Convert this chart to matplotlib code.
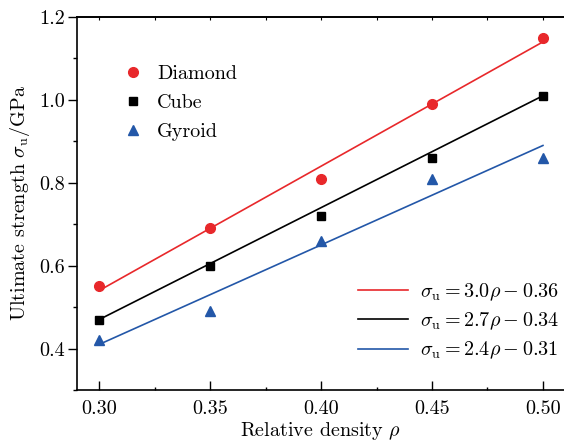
import numpy as np
import matplotlib
matplotlib.use('Agg')
import matplotlib.pyplot as plt
from matplotlib.ticker import MultipleLocator, NullFormatter

plt.rcParams['font.family'] = 'cmr10'
plt.rcParams['mathtext.fontset'] = 'cm'
plt.rcParams['axes.formatter.use_mathtext'] = True

# data
rho = [0.30, 0.35, 0.40, 0.45, 0.50]
diamond = [0.55, 0.69, 0.81, 0.99, 1.15]
cube = [0.47, 0.60, 0.72, 0.86, 1.01]
gyroid = [0.42, 0.49, 0.66, 0.81, 0.86]

# linear fits sigma_u = a*rho + b
fit_a = [3.0, 2.7, 2.4]
fit_b = [-0.36, -0.34, -0.31]
fit_labels = [r'$\sigma_{\mathrm{u}}=3.0\rho-0.36$',
              r'$\sigma_{\mathrm{u}}=2.7\rho-0.34$',
              r'$\sigma_{\mathrm{u}}=2.4\rho-0.31$']

xticks = [0.30, 0.35, 0.40, 0.45, 0.50]
xticklabels = ['0.30', '0.35', '0.40', '0.45', '0.50']
yticks = [0.4, 0.6, 0.8, 1.0, 1.2]
yticklabels = ['0.4', '0.6', '0.8', '1.0', '1.2']

red = '#e8282b'
blk = '#000000'
blue = '#2357a8'
cols = [red, blk, blue]
fs = 14.5

fig = plt.figure(figsize=(5.64, 4.44), dpi=100)
ax = fig.add_axes([0.1365, 0.1216, 0.8655, 0.8401])

p1, = ax.plot(rho, diamond, 'o', color=red, ms=7, ls='none', label='Diamond')
p2, = ax.plot(rho, cube, 's', color=blk, ms=6, ls='none', label='Cube')
p3, = ax.plot(rho, gyroid, '^', color=blue, ms=7.5, ls='none', label='Gyroid')

xf = np.array([0.30, 0.50])
lines = []
for a, b, c, lab in zip(fit_a, fit_b, cols, fit_labels):
    l, = ax.plot(xf, a * xf + b, '-', color=c, lw=1.2, label=lab)
    lines.append(l)

ax.set_xlim(0.29, 0.51)
ax.set_ylim(0.3, 1.2)
ax.set_xticks(xticks)
ax.set_xticklabels(xticklabels)
ax.xaxis.set_minor_locator(MultipleLocator(0.025))
ax.set_yticks(yticks)
ax.set_yticklabels(yticklabels)
ax.yaxis.set_minor_locator(MultipleLocator(0.1))

ax.tick_params(axis='x', which='both', direction='in', top=False, labelsize=fs, width=1)
ax.tick_params(axis='x', which='major', length=6.5, pad=7)
ax.tick_params(axis='x', which='minor', length=2.5)
ax.tick_params(axis='y', which='both', direction='out', labelsize=fs, width=1, right=False)
ax.tick_params(axis='y', which='major', length=6.5, pad=2)
ax.tick_params(axis='y', which='minor', length=3)

sec = ax.secondary_xaxis('top')
sec.set_xticks(xticks)
sec.xaxis.set_minor_locator(MultipleLocator(0.025))
sec.xaxis.set_major_formatter(NullFormatter())
sec.tick_params(which='both', direction='in', length=2.5, width=0.8)
sec.spines['top'].set_linewidth(1.2)

for s in ax.spines.values():
    s.set_linewidth(1.2)

ax.set_xlabel(r'Relative density $\rho$', fontsize=fs, labelpad=2)
ax.set_ylabel(r'Ultimate strength $\sigma_{\mathrm{u}}$/GPa', fontsize=fs, labelpad=5)

leg1 = ax.legend(handles=[p1, p2, p3], loc='upper left', bbox_to_anchor=(0.09, 0.871),
                 frameon=False, fontsize=fs, handletextpad=0.6, labelspacing=0.53,
                 handlelength=1.2, borderpad=0, borderaxespad=0)
ax.add_artist(leg1)
ax.legend(handles=lines, loc='upper left', bbox_to_anchor=(0.576, 0.292),
          frameon=False, fontsize=fs, handlelength=2.48, handletextpad=0.6,
          labelspacing=0.39, borderpad=0, borderaxespad=0)

fig.savefig('out.png', dpi=100)
